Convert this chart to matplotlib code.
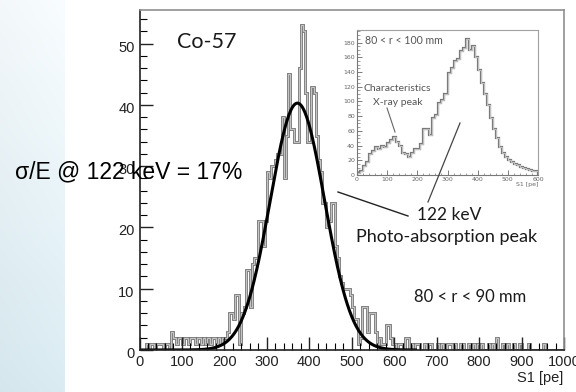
import numpy as np
import matplotlib.pyplot as plt
import matplotlib.patheffects as pe
from matplotlib.lines import Line2D
from matplotlib.ticker import MultipleLocator
from matplotlib.transforms import ScaledTranslation

W, H = 576, 392

# Main histogram: Co-57, 80 < r < 90 mm, 5 pe bins from 0 to 1000
main_edges_lo = 0
main_bin_width = 5
main_counts = [
    0, 0, 0, 1, 0, 1, 1, 0, 1, 1, 1, 0, 1, 1, 0, 3, 2, 1, 2, 2,          # 0-95
    1, 2, 2, 1, 2, 2, 1, 2, 2, 1, 2, 1, 2, 1, 2, 2, 1, 2, 1, 2,          # 100-195
    2, 3, 6, 6, 5, 9, 9, 1, 6, 7, 13, 13, 7, 14, 15, 15, 21, 21, 17, 21,  # 200-295
    29, 28, 30, 30, 31, 32, 32, 38, 28, 35, 45, 36, 36, 34, 34, 46, 53, 52, 42, 34,  # 300-395
    34, 43, 42, 35, 31, 29, 24, 24, 20, 21, 24, 24, 17, 15, 12, 11, 10, 10, 10, 9,    # 400-495
    7, 5, 5, 1, 2, 7, 7, 3, 6, 6, 6, 3, 1, 2, 1, 1, 4, 4, 2, 1,          # 500-595
    1, 0, 1, 1, 0, 2, 2, 0, 1, 0, 1, 1, 0, 0, 1, 0, 1, 1, 0, 0,          # 600-695
    1, 0, 1, 0, 0, 1, 1, 0, 1, 0, 0, 1, 1, 0, 0, 1, 0, 1, 0, 1,          # 700-795
    0, 1, 0, 0, 1, 0, 1, 0, 2, 0, 0, 1, 0, 1, 0, 0, 1, 0, 0, 1,          # 800-895
    0, 0, 0, 1, 0, 0, 0, 0, 0, 0, 1, 0, 0, 0, 0, 0, 0, 0, 0, 0,          # 900-995
]

# Gaussian fit of the photo-absorption peak
fit_amp = 40.3
fit_mean = 372.0
fit_sigma = 64.0
fit_range = (0, 650)

# Inset: 80 < r < 100 mm, 10 pe bins from 0 to 600
inset_bin_width = 10
inset_counts = [
    3, 6, 12, 18, 28, 33, 38, 36, 40, 38, 44, 48, 52, 45, 40, 30, 28, 24, 30, 36,
    36, 42, 62, 63, 55, 78, 82, 98, 102, 110, 138, 145, 155, 158, 168, 172, 185, 170, 175, 160,
    142, 125, 110, 95, 78, 62, 50, 38, 30, 25, 20, 18, 15, 13, 11, 10, 8, 7, 6, 5,
]

main_xticks = list(range(0, 1001, 100))
main_yticks = [0, 10, 20, 30, 40, 50]
inset_xticks = list(range(0, 601, 100))
inset_yticks = list(range(0, 181, 20))


def fx(px):
    return px / W


def fy(py):
    return 1 - py / H


fig = plt.figure(figsize=(W / 100, H / 100), dpi=100)
fig.patch.set_facecolor('white')

# pale blue gradient strip on the left
bg = fig.add_axes([0, 0, fx(65), 1])
ny, nx = 200, 20
tv = np.linspace(0, 1, ny)[:, None]
th = np.linspace(0, 1, nx)[None, :]
top = np.array([0.955, 0.972, 0.980])
bot = np.array([0.835, 0.905, 0.930])
grad = top[None, None, :] * (1 - tv[..., None]) + bot[None, None, :] * tv[..., None]
grad = grad + 0.02 * th[..., None]
bg.imshow(np.clip(grad, 0, 1), aspect='auto', extent=[0, 1, 0, 1])
bg.axis('off')

# main axes
ax = fig.add_axes([fx(139.5), fy(350), fx(564) - fx(139.5), fy(10) - fy(350)])
edges = main_edges_lo + main_bin_width * np.arange(len(main_counts) + 1)
ax.stairs(main_counts, edges, color='#c4c4c4', lw=0.9,
          path_effects=[pe.Stroke(linewidth=2.0, foreground='#6e6e6e'), pe.Normal()])

xf = np.linspace(fit_range[0], fit_range[1], 500)
ax.plot(xf, fit_amp * np.exp(-0.5 * ((xf - fit_mean) / fit_sigma) ** 2), color='black', lw=2.2)

ax.set_xlim(0, 1000)
ax.set_ylim(0, 55.5)
ax.set_xticks(main_xticks)
ax.set_yticks(main_yticks)
ax.xaxis.set_minor_locator(MultipleLocator(20))
ax.yaxis.set_minor_locator(MultipleLocator(2))
ax.tick_params(which='major', direction='in', length=9.5, width=1.0, labelsize=10.5,
               pad=3.5, colors='#222222', top=False, right=False)
ax.tick_params(which='minor', direction='in', length=4.7, width=0.8, top=False, right=False)
for lab in ax.get_xticklabels() + ax.get_yticklabels():
    lab.set_family('Liberation Sans')
# ROOT-style labels sit a little below their ticks
for lab in ax.get_yticklabels():
    lab.set_transform(lab.get_transform() + ScaledTranslation(0, -0.025, fig.dpi_scale_trans))
for s in ['left', 'bottom']:
    ax.spines[s].set_color('#222222')
    ax.spines[s].set_linewidth(1.2)
for s in ['top', 'right']:
    ax.spines[s].set_color('#909090')
    ax.spines[s].set_linewidth(1.2)

fig.text(fx(563), fy(378), 'S1 [pe]', ha='right', va='center', fontsize=10.5,
         family='Liberation Sans', color='#222222')

ann = dict(family='Lato', color='#1a1a1a')
fig.text(fx(177), fy(41.5), 'Co-57', ha='left', va='center', fontsize=15.5, **ann)
fig.text(fx(417), fy(214.5), '122 keV', ha='left', va='center', fontsize=12.5, **ann)
fig.text(fx(537), fy(237), 'Photo-absorption peak', ha='right', va='center', fontsize=13, **ann)
fig.text(fx(470), fy(297), '80 < r < 90 mm', ha='center', va='center', fontsize=12, **ann)

fig.add_artist(Line2D([fx(338), fx(408)], [fy(192), fy(216)], color='#222222', lw=1.0))
fig.add_artist(Line2D([fx(428), fx(460)], [fy(202), fy(123)], color='#444444', lw=0.9))

# inset
ins = fig.add_axes([fx(357), fy(175), fx(538) - fx(357), fy(30) - fy(175)])
iedges = inset_bin_width * np.arange(len(inset_counts) + 1)
ins.stairs(inset_counts, iedges, color='#c0c0c0', lw=0.8,
           path_effects=[pe.Stroke(linewidth=1.6, foreground='#777777'), pe.Normal()])
ins.set_xlim(0, 600)
ins.set_ylim(0, 197)
ins.set_xticks(inset_xticks)
ins.set_yticks(inset_yticks)
ins.xaxis.set_minor_locator(MultipleLocator(20))
ins.yaxis.set_minor_locator(MultipleLocator(5))
ins.tick_params(which='major', direction='in', length=3.5, width=0.6, labelsize=4.5,
                pad=1.5, colors='#666666', top=False, right=False)
ins.tick_params(which='minor', direction='in', length=1.8, width=0.5, colors='#777777',
                top=False, right=False)
for s in ins.spines.values():
    s.set_color('#a0a0a0')
    s.set_linewidth(0.8)
for s in ['left', 'bottom']:
    ins.spines[s].set_color('#777777')

fig.text(fx(538), fy(185), 'S1 [pe]', ha='right', va='center', fontsize=4.5, color='#666666')
iann = dict(family='Lato', color='#555555')
fig.text(fx(365), fy(41), '80 < r < 100 mm', ha='left', va='center', fontsize=7.6, **iann)
fig.text(fx(397.5), fy(88.5), 'Characteristics', ha='center', va='center', fontsize=7.5, **iann)
fig.text(fx(397.5), fy(102.5), 'X-ray peak', ha='center', va='center', fontsize=7.5, **iann)
fig.add_artist(Line2D([fx(387), fx(395)], [fy(108), fy(132)], color='#666666', lw=0.8))

fig.text(fx(15), fy(172), 'σ/E @ 122 keV = 17%', ha='left', va='center', fontsize=16.5,
         family='Liberation Sans', color='black')

fig.savefig('out.png', dpi=100)
